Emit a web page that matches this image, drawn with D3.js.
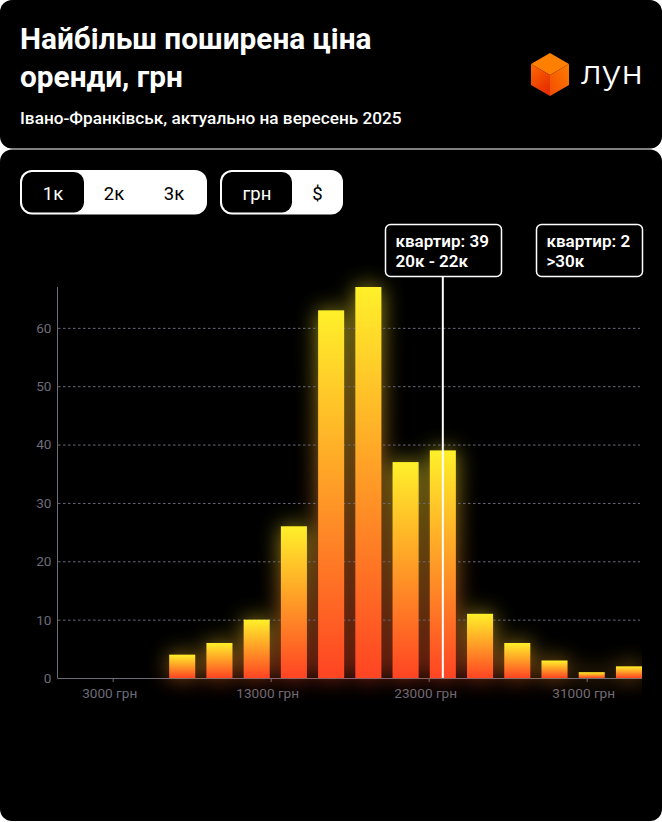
<!DOCTYPE html>
<html>
<head>
<meta charset="utf-8">
<script src="https://cdn.jsdelivr.net/npm/d3@7"></script>
<style>
  html, body { margin: 0; padding: 0; background: #000; }
  svg { display: block; font-family: Roboto, sans-serif; }
  .grid line { stroke: #6c6b78; stroke-dasharray: 2.5 2.5; }
  .axis path, .axis line { stroke: #6c6b78; }
  .axis text { fill: #6c6b78; font-size: 13.6px; font-family: Roboto, sans-serif; }
</style>
</head>
<body>
<div id="chart"></div>
<script>
// дані гістограми
const categories = ["0-2", "2-4", "4-6", "6-8", "8-10", "10-12", "12-14", "14-16", "16-18", "18-20", "20-22", "22-24", "24-26", "26-28", "28-30", ">30"];
const flats = [0, 0, 0, 4, 6, 10, 26, 63, 67, 37, 39, 11, 6, 3, 1, 2];
const xTickLabels = ["3000 грн", "13000 грн", "23000 грн", "31000 грн"];
const yTicks = [0, 10, 20, 30, 40, 50, 60];
const roomTabs = ["1к", "2к", "3к"];
const currencyTabs = ["грн", "$"];
const titleLines = ["Найбільш поширена ціна", "оренди, грн"];
const subtitle = "Івано-Франківськ, актуально на вересень 2025";
const tooltips = [
  { lines: ["квартир: 39", "20к - 22к"], x: 385, w: 116 },
  { lines: ["квартир: 2", ">30к"], x: 536, w: 106 }
];

const width = 662, height = 822;

const svg = d3.select("#chart").append("svg")
  .attr("width", width)
  .attr("height", height)
  .attr("viewBox", [0, 0, width, height]);

// фон: дві чорні картки на білому
svg.append("rect").attr("width", width).attr("height", height).attr("fill", "#fff");
svg.append("rect").attr("x", 0).attr("y", 0).attr("width", width).attr("height", 148.5)
  .attr("rx", 12).attr("fill", "#000");
svg.append("rect").attr("x", 0).attr("y", 149.5).attr("width", width).attr("height", 671.5)
  .attr("rx", 12).attr("fill", "#000");

// заголовок
svg.selectAll(".title").data(titleLines).join("text")
  .attr("class", "title")
  .attr("x", 20)
  .attr("y", (d, i) => 49 + i * 38)
  .attr("fill", "#fff")
  .attr("font-size", 29.8)
  .attr("font-weight", 700)
  .text(d => d);

svg.append("text")
  .attr("x", 20).attr("y", 124)
  .attr("fill", "#fff")
  .attr("font-size", 17.2)
  .attr("font-weight", 500)
  .text(subtitle);

const defs = svg.append("defs");

// логотип ЛУН
const topGrad = defs.append("linearGradient").attr("id", "cube-left")
  .attr("x1", 0).attr("y1", 0).attr("x2", 0.6).attr("y2", 1);
topGrad.append("stop").attr("offset", 0).attr("stop-color", "#ff6a00");
topGrad.append("stop").attr("offset", 1).attr("stop-color", "#e62e00");
const rightGrad = defs.append("linearGradient").attr("id", "cube-right")
  .attr("x1", 1).attr("y1", 0).attr("x2", 0).attr("y2", 1);
rightGrad.append("stop").attr("offset", 0).attr("stop-color", "#ff7d00");
rightGrad.append("stop").attr("offset", 1).attr("stop-color", "#f24c00");

const logo = svg.append("g").attr("transform", "translate(531,53)");
logo.append("path").attr("d", "M19,0L38,11L19,22L0,11Z").attr("fill", "#ff7f00");
logo.append("path").attr("d", "M0,11L19,22V43L0,32Z").attr("fill", "url(#cube-left)");
logo.append("path").attr("d", "M38,11L19,22V43L38,32Z").attr("fill", "url(#cube-right)");
svg.append("text")
  .attr("x", 581).attr("y", 83.5)
  .attr("fill", "#fff")
  .attr("font-size", 33)
  .attr("font-family", "Inter, sans-serif")
  .attr("font-weight", 300)
  .attr("textLength", 62)
  .attr("lengthAdjust", "spacingAndGlyphs")
  .text("лун");

// перемикачі
function drawTabs(items, x, w, itemW, firstW) {
  const g = svg.append("g").attr("transform", `translate(${x},170)`);
  g.append("rect").attr("width", w).attr("height", 44.5).attr("rx", 12).attr("fill", "#fff");
  g.append("rect").attr("x", 2).attr("y", 2).attr("width", firstW).attr("height", 40.5)
    .attr("rx", 10).attr("fill", "#000");
  g.selectAll("text").data(items).join("text")
    .attr("x", (d, i) => i === 0 ? 2 + firstW / 2 : 2 + firstW + itemW * (i - 0.5))
    .attr("y", 29.5)
    .attr("text-anchor", "middle")
    .attr("font-size", 18.5)
    .attr("fill", (d, i) => i === 0 ? "#fff" : "#000")
    .text(d => d);
}
drawTabs(roomTabs, 20, 187, 60, 62);
drawTabs(currencyTabs, 220, 123, 51, 70);

// шкали
const x = d3.scaleBand()
  .domain(categories)
  .range([57.5, 642])
  .paddingInner(0.3)
  .paddingOuter(0);
const y = d3.scaleLinear().domain([0, 67]).range([678, 287]);
const xTicks = d3.scalePoint().domain(xTickLabels).range([112.7, 586.7]);

// осі
svg.append("g").attr("class", "axis")
  .attr("transform", "translate(57.5,0)")
  .call(d3.axisLeft(y).tickValues(yTicks).tickSize(0).tickPadding(6))
  .call(g => g.select(".domain").attr("d", `M0,${y(67)}V${y(0)}`));
svg.append("g").attr("class", "axis")
  .attr("transform", `translate(0,${y(0)})`)
  .call(d3.axisBottom(xTicks).tickSize(4).tickPadding(6))
  .call(g => g.select(".domain").attr("d", "M57.5,0.5H642"))
  .call(g => g.selectAll("text").attr("dx", -3.5));

// сітка
const grid = () => svg.append("g").attr("class", "grid")
  .selectAll("line").data(yTicks.filter(d => d > 0)).join("line")
  .attr("x1", 58).attr("x2", 640)
  .attr("y1", d => y(d) + 0.5).attr("y2", d => y(d) + 0.5);

// градієнт і світіння стовпчиків
const barGrad = defs.append("linearGradient").attr("id", "bar-grad")
  .attr("x1", 0).attr("y1", 0).attr("x2", 0).attr("y2", 1);
barGrad.append("stop").attr("offset", 0).attr("stop-color", "#fff02a");
barGrad.append("stop").attr("offset", 1).attr("stop-color", "#ff4423");

const glow = defs.append("filter").attr("id", "glow")
  .attr("filterUnits", "userSpaceOnUse")
  .attr("x", 0).attr("y", 200).attr("width", width).attr("height", 620);
glow.append("feGaussianBlur").attr("stdDeviation", 11);

defs.append("clipPath").attr("id", "plot-clip")
  .append("rect").attr("x", 0).attr("y", 220).attr("width", 642).attr("height", 600);

const nonEmpty = categories.map((c, i) => ({ c, v: flats[i] })).filter(d => d.v > 0);

svg.append("g").attr("clip-path", "url(#plot-clip)")
  .append("g").attr("filter", "url(#glow)").attr("opacity", 0.62)
  .selectAll("rect").data(nonEmpty).join("rect")
  .attr("x", d => x(d.c))
  .attr("y", d => y(d.v))
  .attr("width", x.bandwidth())
  .attr("height", d => y(0) - y(d.v))
  .attr("fill", "url(#bar-grad)");

grid();

svg.append("g")
  .selectAll("rect").data(nonEmpty).join("rect")
  .attr("x", d => x(d.c))
  .attr("y", d => y(d.v))
  .attr("width", x.bandwidth())
  .attr("height", d => y(0) - y(d.v))
  .attr("fill", "url(#bar-grad)");

// вертикальна лінія активного стовпчика
const activeX = x("20-22") + x.bandwidth() / 2;
svg.append("line")
  .attr("x1", activeX).attr("x2", activeX)
  .attr("y1", 276).attr("y2", y(0))
  .attr("stroke", "#fff").attr("stroke-width", 2);

// підказки
tooltips.forEach(t => {
  const g = svg.append("g").attr("transform", `translate(${t.x},224)`);
  g.append("rect").attr("x", 0.5).attr("y", 0.5).attr("width", t.w).attr("height", 52)
    .attr("rx", 5).attr("fill", "#000").attr("stroke", "#fff").attr("stroke-width", 1.5);
  g.selectAll("text").data(t.lines).join("text")
    .attr("x", 10.5)
    .attr("y", (d, i) => 22.5 + i * 20)
    .attr("fill", "#fff")
    .attr("font-size", 17)
    .attr("font-weight", 600)
    .text(d => d);
});
</script>
</body>
</html>
